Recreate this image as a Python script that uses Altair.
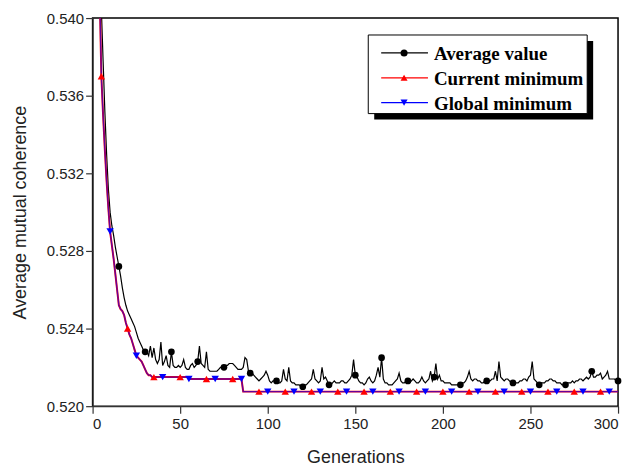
import altair as alt
import pandas as pd

# ---------------- data ----------------
generations = list(range(1, 301))

average_value = [
    0.5750, 0.5600, 0.5500, 0.5440, 0.5405, 0.5378, 0.5352, 0.5330, 0.5312, 0.5300,
    0.5293, 0.5288, 0.5282, 0.5277, 0.5272, 0.5267, 0.5261, 0.5256, 0.5252, 0.5249,
    0.5247, 0.5245, 0.5243, 0.5241, 0.5238, 0.5235, 0.5233, 0.5231, 0.5229, 0.5228,
    0.5228, 0.5226, 0.5231, 0.5225, 0.5230, 0.5224, 0.5222, 0.5224, 0.5233, 0.5221,
    0.5223, 0.5226, 0.5221, 0.5220, 0.5228, 0.5221, 0.5220, 0.5220, 0.5221, 0.5220,
    0.5221, 0.5224, 0.5220, 0.5219, 0.5219, 0.5221, 0.5222, 0.5220, 0.5221, 0.5223,
    0.5231, 0.5222, 0.5221, 0.5220, 0.5228, 0.5219, 0.5218, 0.5218, 0.5218, 0.5218,
    0.5218, 0.5219, 0.5220, 0.5220, 0.5220, 0.5221, 0.5221, 0.5222, 0.5222, 0.5222,
    0.5221, 0.5220, 0.5219, 0.5219, 0.5219, 0.5220, 0.5225, 0.5224, 0.5218, 0.5217,
    0.5217, 0.5216, 0.5215, 0.5214, 0.5213, 0.5214, 0.5215, 0.5216, 0.5218, 0.5216,
    0.5213, 0.5212, 0.5213, 0.5213, 0.5213, 0.5212, 0.5212, 0.5213, 0.5219, 0.5214,
    0.5213, 0.5220, 0.5213, 0.5212, 0.5212, 0.5211, 0.5211, 0.5211, 0.5210, 0.5210,
    0.5211, 0.5211, 0.5212, 0.5213, 0.5214, 0.5219, 0.5214, 0.5213, 0.5212, 0.5213,
    0.5220, 0.5214, 0.5215, 0.5213, 0.5211, 0.5211, 0.5212, 0.5213, 0.5212, 0.5212,
    0.5212, 0.5213, 0.5213, 0.5212, 0.5212, 0.5213, 0.5214, 0.5216, 0.5224, 0.5216,
    0.5215, 0.5213, 0.5212, 0.5212, 0.5211, 0.5212, 0.5214, 0.5215, 0.5213, 0.5212,
    0.5213, 0.5216, 0.5220, 0.5215, 0.5225, 0.5214, 0.5212, 0.5212, 0.5211, 0.5211,
    0.5211, 0.5212, 0.5213, 0.5214, 0.5217, 0.5213, 0.5212, 0.5212, 0.5213, 0.5213,
    0.5212, 0.5213, 0.5214, 0.5213, 0.5212, 0.5212, 0.5213, 0.5215, 0.5213, 0.5212,
    0.5213, 0.5214, 0.5218, 0.5213, 0.5215, 0.5222, 0.5214, 0.5216, 0.5213, 0.5213,
    0.5212, 0.5212, 0.5212, 0.5212, 0.5211, 0.5211, 0.5211, 0.5211, 0.5211, 0.5211,
    0.5212, 0.5212, 0.5213, 0.5215, 0.5218, 0.5214, 0.5213, 0.5214, 0.5214, 0.5213,
    0.5213, 0.5212, 0.5212, 0.5213, 0.5213, 0.5213, 0.5213, 0.5214, 0.5214, 0.5218,
    0.5213, 0.5223, 0.5215, 0.5214, 0.5213, 0.5214, 0.5214, 0.5213, 0.5212, 0.5212,
    0.5212, 0.5212, 0.5212, 0.5213, 0.5213, 0.5214, 0.5214, 0.5213, 0.5215, 0.5216,
    0.5223, 0.5214, 0.5213, 0.5212, 0.5211, 0.5212, 0.5212, 0.5212, 0.5213, 0.5213,
    0.5214, 0.5214, 0.5213, 0.5213, 0.5212, 0.5212, 0.5212, 0.5211, 0.5211, 0.5211,
    0.5212, 0.5212, 0.5212, 0.5213, 0.5212, 0.5213, 0.5213, 0.5214, 0.5214, 0.5213,
    0.5214, 0.5215, 0.5214, 0.5215, 0.5218, 0.5215, 0.5215, 0.5216, 0.5216, 0.5217,
    0.5214, 0.5215, 0.5216, 0.5218, 0.5214, 0.5214, 0.5214, 0.5214, 0.5213, 0.5213,
]

# vertices of the (step-like) minimum curves
min_gen = list(range(1, 35)) + [54, 55, 85, 86, 300]
current_min = [
    0.5700, 0.5560, 0.5470, 0.5415, 0.5370, 0.5350, 0.5332, 0.5316, 0.5302, 0.5290,
    0.5283, 0.5276, 0.5268, 0.5260, 0.5252, 0.5250, 0.5249, 0.5247, 0.5243, 0.5240,
    0.5237, 0.5235, 0.5232, 0.5229, 0.5226, 0.5225, 0.5224, 0.5223, 0.5221, 0.5219,
    0.5217, 0.5216, 0.5216, 0.5215,
    0.5215, 0.5214, 0.5214, 0.52075, 0.52075,
]
global_min = [
    0.5700, 0.5560, 0.5470, 0.5415, 0.5370, 0.5350, 0.5332, 0.5316, 0.5302, 0.5290,
    0.5283, 0.5276, 0.5268, 0.5260, 0.5252, 0.5250, 0.5249, 0.5247, 0.5243, 0.5240,
    0.5237, 0.5235, 0.5232, 0.5229, 0.5226, 0.5225, 0.5224, 0.5223, 0.5221, 0.5219,
    0.5217, 0.5216, 0.5216, 0.5215,
    0.5215, 0.5214, 0.5214, 0.52075, 0.52075,
]

# marker positions
red_gen = [5, 20, 35, 50, 65, 80, 95, 110, 125, 140, 155, 170, 185, 200, 215, 230, 245, 260, 275, 290]
red_val = [0.5370, 0.5240, 0.5215, 0.5215, 0.5214, 0.5214, 0.52075, 0.52075, 0.52075, 0.52075,
           0.52075, 0.52075, 0.52075, 0.52075, 0.52075, 0.52075, 0.52075, 0.52075, 0.52075, 0.52075]
blue_gen = [10, 25, 40, 55, 70, 85, 100, 115, 130, 145, 160, 175, 190, 205, 220, 235, 250, 265, 280, 295]
blue_val = [0.5290, 0.5226, 0.5215, 0.5214, 0.5214, 0.5214, 0.52075, 0.52075, 0.52075, 0.52075,
            0.52075, 0.52075, 0.52075, 0.52075, 0.52075, 0.52075, 0.52075, 0.52075, 0.52075, 0.52075]
black_gen = [15, 30, 45, 60, 75, 90, 105, 120, 135, 150, 165, 180, 195, 210, 225, 240, 255, 270, 285, 300]

x_ticks = [0, 50, 100, 150, 200, 250, 300]
y_ticks = [0.520, 0.524, 0.528, 0.532, 0.536, 0.540]

legend_labels = ["Average value", "Current minimum", "Global minimum"]

# ---------------- tables ----------------
avg_df = pd.DataFrame({"gen": generations, "val": average_value})
cur_df = pd.DataFrame({"gen": min_gen, "val": current_min})
glob_df = pd.DataFrame({"gen": min_gen, "val": global_min})
red_df = pd.DataFrame({"gen": red_gen, "val": red_val})
blue_df = pd.DataFrame({"gen": blue_gen, "val": blue_val})
black_df = avg_df[avg_df["gen"].isin(black_gen)]

FONT = "Liberation Sans"
X = alt.X("gen:Q",
          scale=alt.Scale(domain=[0, 300], nice=False, zero=False),
          axis=alt.Axis(values=x_ticks, title="Generations", format="d",
                        tickSize=7, labelPadding=3, titlePadding=18))
Y = alt.Y("val:Q",
          scale=alt.Scale(domain=[0.520, 0.540], nice=False, zero=False),
          axis=alt.Axis(values=y_ticks, title="Average mutual coherence", format=".3f",
                        tickSize=7, labelPadding=2, titlePadding=17))

black_line = alt.Chart(avg_df).mark_line(color="black", strokeWidth=1.2, clip=True).encode(x=X, y=Y)
red_line = alt.Chart(cur_df).mark_line(color="#ff0000", strokeWidth=2, clip=True).encode(x=X, y=Y)
blue_line = alt.Chart(glob_df).mark_line(color="#0000ff", strokeWidth=1.4, opacity=0.6, clip=True).encode(x=X, y=Y)

black_pts = alt.Chart(black_df).mark_point(shape="circle", filled=True, color="black", size=45, opacity=1).encode(x=X, y=Y)
red_pts = alt.Chart(red_df).mark_point(shape="triangle-up", filled=True, color="#ff0000", size=55, opacity=1).encode(x=X, y=Y)
blue_pts = alt.Chart(blue_df).mark_point(shape="triangle-down", filled=True, color="#0000ff", size=55, opacity=1).encode(x=X, y=Y)

# ---------------- legend (drawn by hand, with shadow) ----------------
one = pd.DataFrame({"k": [0]})
shadow = alt.Chart(one).mark_rect(color="black").encode(
    x=alt.value(283), x2=alt.value(503), y=alt.value(23), y2=alt.value(102))
box = alt.Chart(one).mark_rect(fill="white", stroke="black", strokeWidth=1).encode(
    x=alt.value(277), x2=alt.value(497), y=alt.value(17), y2=alt.value(96))

legend_layers = [shadow, box]
row_y = [35, 60, 85]
colors = ["black", "#ff0000", "#0000ff"]
shapes = ["circle", "triangle-up", "triangle-down"]
for lab, ry, col, shp in zip(legend_labels, row_y, colors, shapes):
    legend_layers.append(alt.Chart(one).mark_rule(color=col, strokeWidth=1.3).encode(
        x=alt.value(290), x2=alt.value(337), y=alt.value(ry)))
    legend_layers.append(alt.Chart(one).mark_point(shape=shp, filled=True, color=col, size=50, opacity=1).encode(
        x=alt.value(313), y=alt.value(ry)))
    legend_layers.append(alt.Chart(one).mark_text(
        text=lab, align="left", baseline="middle", font="Liberation Serif",
        fontWeight="bold", fontSize=19, color="black").encode(
        x=alt.value(343), y=alt.value(ry + 1)))

chart = alt.layer(
    black_line, red_line, blue_line, black_pts, red_pts, blue_pts, *legend_layers
).properties(
    width=528, height=390,
    padding={"left": 3, "top": 2, "right": 4, "bottom": 0},
).configure_view(
    stroke="black", strokeWidth=1.5
).configure_axis(
    grid=False,
    domainColor="#333", domainWidth=1.2,
    tickColor="#333", tickWidth=1.2,
    labelFont=FONT, labelFontSize=15, labelColor="#222",
    titleFont=FONT, titleFontSize=18, titleFontWeight="normal", titleColor="#222",
)

chart.save("out.html", embed_options={"renderer": "svg", "actions": False})
